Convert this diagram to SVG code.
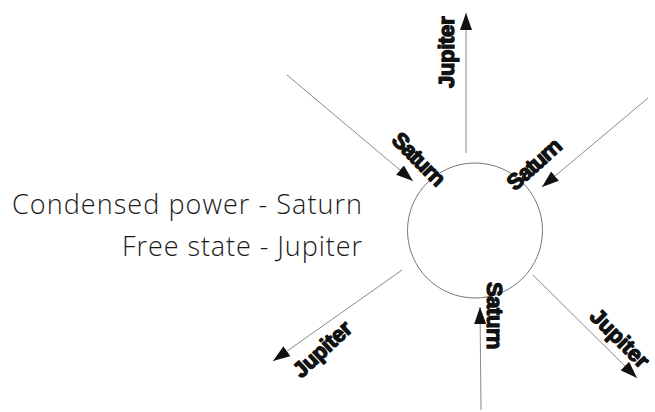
<svg xmlns="http://www.w3.org/2000/svg" width="655" height="412" viewBox="0 0 655 412">
<style>
.conn{stroke:#8a8a8a;stroke-width:1;fill:none;marker-end:url(#ah)}
.lbl{font-family:"Liberation Sans",Arial,sans-serif;font-weight:bold;font-size:22px;fill:#111;stroke:#111;stroke-width:1.3;stroke-linejoin:round;text-anchor:middle;letter-spacing:-1.5px}
.legend{font-family:"Open Sans","Liberation Sans",sans-serif;font-weight:300;font-size:27px;fill:#1a1a1a;text-anchor:end}
</style>
<defs>
<marker id="ah" markerUnits="userSpaceOnUse" markerWidth="17" markerHeight="12" refX="17" refY="6" orient="auto">
<path d="M0,0 L17,6 L0,12 z" fill="#111"/>
</marker>
</defs>
<rect width="655" height="412" fill="#fff"/>
<g id="legend">
<text class="legend" x="362" y="214" textLength="350">Condensed power - Saturn</text>
<text class="legend" x="362" y="256" textLength="240">Free state - Jupiter</text>
</g>
<g id="center">
<circle cx="475" cy="230.5" r="67.5" fill="none" stroke="#777" stroke-width="1"/>
</g>
<g id="connectors">
<line class="conn" x1="466" y1="153" x2="466" y2="13"/>
<line class="conn" x1="287" y1="75" x2="413" y2="181"/>
<line class="conn" x1="648" y1="98" x2="542" y2="187"/>
<line class="conn" x1="402" y1="270" x2="273" y2="361"/>
<line class="conn" x1="481" y1="410" x2="480" y2="307"/>
<line class="conn" x1="533" y1="275" x2="637" y2="378"/>
</g>
<g id="label-top-jupiter"><text class="lbl" transform="translate(447,53) rotate(-90)" y="7" textLength="70">Jupiter</text></g>
<g id="label-ul-saturn"><text class="lbl" transform="translate(418,159) rotate(45)" y="7" textLength="64">Saturn</text></g>
<g id="label-ur-saturn"><text class="lbl" transform="translate(534,165) rotate(-42)" y="7" textLength="64">Saturn</text></g>
<g id="label-bl-jupiter"><text class="lbl" transform="translate(322,350) rotate(-43)" y="7" textLength="70">Jupiter</text></g>
<g id="label-b-saturn"><text class="lbl" transform="translate(494,315) rotate(90)" y="7" textLength="66">Saturn</text></g>
<g id="label-br-jupiter"><text class="lbl" transform="translate(619,338) rotate(45)" y="7" textLength="72">Jupiter</text></g>
</svg>
